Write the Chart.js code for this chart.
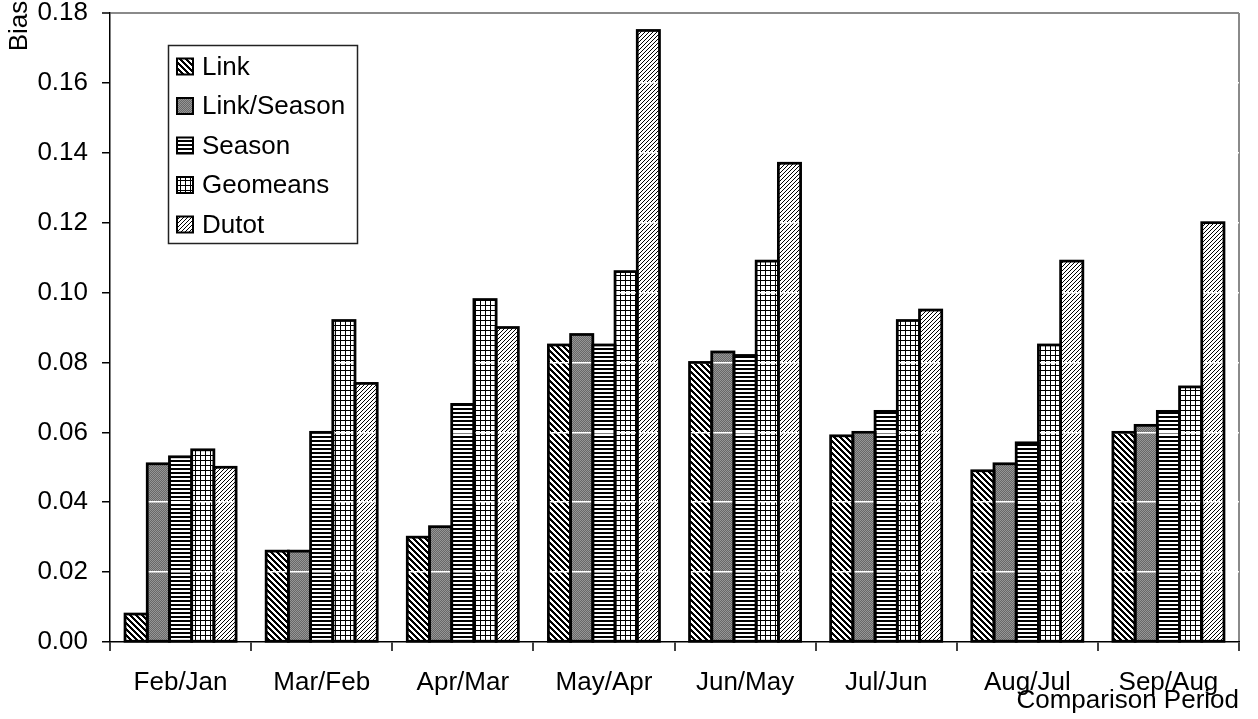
<!DOCTYPE html>
<html>
<head>
<meta charset="utf-8">
<script src="https://cdn.jsdelivr.net/npm/chart.js@4/dist/chart.umd.min.js"></script>
<style>
  html, body { margin: 0; padding: 0; background: #fff; }
  canvas { display: block; }
</style>
</head>
<body>
<canvas id="c" width="1258" height="719"></canvas>
<script>
// Comparison periods (x axis)
const categories = ['Feb/Jan', 'Mar/Feb', 'Apr/Mar', 'May/Apr', 'Jun/May', 'Jul/Jun', 'Aug/Jul', 'Sep/Aug'];

// Bias per index method
const link       = [0.008, 0.026, 0.030, 0.085, 0.080, 0.059, 0.049, 0.060];
const linkSeason = [0.051, 0.026, 0.033, 0.088, 0.083, 0.060, 0.051, 0.062];
const season     = [0.053, 0.060, 0.068, 0.085, 0.082, 0.066, 0.057, 0.066];
const geomeans   = [0.055, 0.092, 0.098, 0.106, 0.109, 0.092, 0.085, 0.073];
const dutot      = [0.050, 0.074, 0.090, 0.175, 0.137, 0.095, 0.109, 0.120];

const seriesNames = ['Link', 'Link/Season', 'Season', 'Geomeans', 'Dutot'];
const yTicks = [0.00, 0.02, 0.04, 0.06, 0.08, 0.10, 0.12, 0.14, 0.16, 0.18];

const FONT = '"Liberation Sans", Arial, Helvetica, sans-serif';
const FONT_SIZE = 26;

const canvas = document.getElementById('c');
const mainCtx = canvas.getContext('2d');

// Build a repeating fill pattern from a per-pixel painter
function makePattern(size, painter) {
  const tile = document.createElement('canvas');
  tile.width = size; tile.height = size;
  const g = tile.getContext('2d');
  const img = g.createImageData(size, size);
  for (let y = 0; y < size; y++) {
    for (let x = 0; x < size; x++) {
      const [r, gr, b] = painter(x, y);
      const i = (y * size + x) * 4;
      img.data[i] = r; img.data[i + 1] = gr; img.data[i + 2] = b; img.data[i + 3] = 255;
    }
  }
  g.putImageData(img, 0, 0);
  return mainCtx.createPattern(tile, 'repeat');
}

const BLACK = [0, 0, 0], WHITE = [255, 255, 255];
const fills = [
  // wide downward diagonal
  makePattern(6, (x, y) => (((x - y) % 6 + 6) % 6) < 3 ? BLACK : WHITE),
  // dithered grey
  makePattern(2, (x, y) => (x + y) % 2 ? [104, 104, 104] : [150, 150, 150]),
  // dark horizontal stripes
  makePattern(4, (x, y) => (y % 4) < 2 ? BLACK : WHITE),
  // small grid
  makePattern(5, (x, y) => (x % 5 === 0 || y % 5 === 0) ? BLACK : WHITE),
  // light upward diagonal
  makePattern(4, (x, y) => ((x + y) % 4 === 0) ? BLACK : WHITE)
];

const seriesValues = [link, linkSeason, season, geomeans, dutot];

// Bar outlines, legend box and free-standing titles
const decorations = {
  id: 'decorations',
  afterDraw(chart) {
    const ctx = chart.ctx;
    ctx.save();

    // bar outlines centred on the bar edges
    ctx.strokeStyle = '#000';
    ctx.lineWidth = 2.75;
    ctx.lineJoin = 'miter';
    chart.data.datasets.forEach((ds, i) => {
      chart.getDatasetMeta(i).data.forEach(bar => {
        const { x, y, base, width } = bar.getProps(['x', 'y', 'base', 'width'], true);
        ctx.strokeRect(x - width / 2, y, width, base - y);
      });
    });

    // legend
    const lx = 168, ly = 45, lw = 189, lh = 198;
    ctx.fillStyle = '#fff';
    ctx.fillRect(lx, ly, lw, lh);
    ctx.strokeStyle = '#222';
    ctx.lineWidth = 1.5;
    ctx.strokeRect(lx + 0.5, ly + 0.5, lw, lh);
    ctx.font = FONT_SIZE + 'px ' + FONT;
    ctx.textBaseline = 'middle';
    ctx.textAlign = 'left';
    chart.data.datasets.forEach((ds, i) => {
      const cy = 66.5 + i * 39.5;
      ctx.fillStyle = ds.backgroundColor;
      ctx.fillRect(177, cy - 8, 16, 16);
      ctx.strokeStyle = '#000';
      ctx.lineWidth = 2;
      ctx.strokeRect(177, cy - 8, 16, 16);
      ctx.fillStyle = '#000';
      ctx.fillText(ds.label, 202, cy + 1);
    });

    // axis titles
    ctx.fillStyle = '#000';
    ctx.textBaseline = 'alphabetic';
    ctx.textAlign = 'right';
    ctx.fillText('Comparison Period', chart.chartArea.right, 708);

    ctx.translate(27, 26);
    ctx.rotate(-Math.PI / 2);
    ctx.textAlign = 'center';
    ctx.fillText('Bias', 0, 0);

    ctx.restore();
  }
};

new Chart(canvas, {
  type: 'bar',
  data: {
    labels: categories,
    datasets: seriesNames.map((name, i) => ({
      label: name,
      data: seriesValues[i],
      backgroundColor: fills[i],
      borderWidth: 0,
      categoryPercentage: 0.787,
      barPercentage: 1.0
    }))
  },
  options: {
    responsive: false,
    devicePixelRatio: 1,
    animation: false,
    layout: { padding: { top: 13, right: 19, left: 0, bottom: 0 } },
    plugins: {
      legend: { display: false },
      tooltip: { enabled: false }
    },
    scales: {
      x: {
        afterFit(scale) {
          scale.height = 77;
          scale.paddingLeft = 0; scale.paddingRight = 0;
        },
        grid: {
          offset: true,
          drawOnChartArea: true,
          color: (ctx) => ctx.type === 'scale' ? '#8a8a8a' : 'rgba(0,0,0,0)',
          lineWidth: 2,
          tickColor: '#000',
          tickLength: 9,
          tickWidth: 1.5
        },
        border: { display: true, color: '#000', width: 1.5, z: 2 },
        ticks: {
          color: '#000',
          font: { family: FONT, size: FONT_SIZE },
          padding: 16,
          maxRotation: 0,
          autoSkip: false
        }
      },
      y: {
        min: 0,
        max: 0.18,
        afterFit(scale) {
          scale.width = 110;
          scale.paddingTop = 0; scale.paddingBottom = 0;
        },
        afterBuildTicks(scale) { scale.ticks = yTicks.map(v => ({ value: v })); },
        grid: {
          z: 1,
          color: (ctx) => {
            if (!ctx.tick) return 'rgba(0,0,0,0)';
            if (ctx.tick.value === 0) return 'rgba(0,0,0,0)';
            if (ctx.tick.value > 0.179) return '#8a8a8a';
            return '#ffffff';
          },
          lineWidth: (ctx) => (ctx.tick && ctx.tick.value > 0.179) ? 2 : 1.5,
          tickColor: '#000',
          tickLength: 8,
          tickWidth: 1.5
        },
        border: { display: true, color: '#000', width: 1.5, z: 2 },
        ticks: {
          color: '#000',
          font: { family: FONT, size: FONT_SIZE },
          padding: 14,
          callback: (v) => Number(v).toFixed(2)
        }
      }
    }
  },
  plugins: [decorations]
});
</script>
</body>
</html>
